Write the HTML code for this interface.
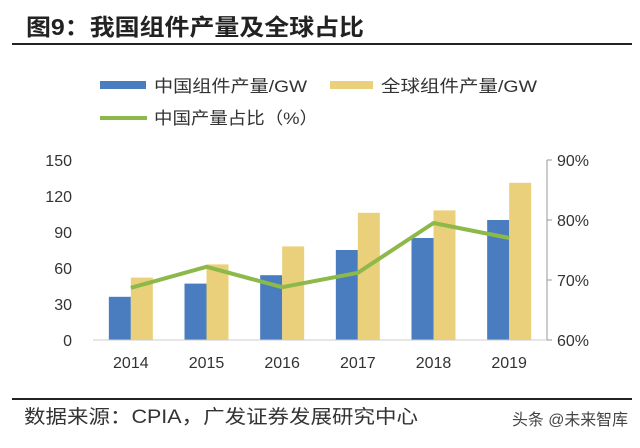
<!DOCTYPE html>
<html><head><meta charset="utf-8"><style>
body{margin:0;background:#fff;}
svg text{font-family:"Liberation Sans","Noto Sans CJK SC",sans-serif;}
</style></head><body>
<svg width="640" height="443" viewBox="0 0 640 443" xmlns="http://www.w3.org/2000/svg">
<text x="26" y="35" font-size="23" font-weight="bold" fill="#222" textLength="338" lengthAdjust="spacingAndGlyphs">图9：我国组件产量及全球占比</text>
<line x1="12" y1="44" x2="632" y2="44" stroke="#222" stroke-width="2"/>
<g font-size="17" fill="#333">
<rect x="100" y="81" width="46" height="8" fill="#4a7dbf"/>
<text x="154" y="92" textLength="153" lengthAdjust="spacingAndGlyphs">中国组件产量/GW</text>
<rect x="330" y="81" width="43" height="8" fill="#ead07a"/>
<text x="381" y="92" textLength="156" lengthAdjust="spacingAndGlyphs">全球组件产量/GW</text>
<line x1="100" y1="118" x2="147" y2="118" stroke="#8db84a" stroke-width="4"/>
<text x="154" y="124" textLength="164" lengthAdjust="spacingAndGlyphs">中国产量占比（%）</text>
</g>
<g id="plot"></g>
<line x1="12" y1="399" x2="632" y2="399" stroke="#222" stroke-width="2"/>
<text x="24" y="423" font-size="19" fill="#333" textLength="394" lengthAdjust="spacingAndGlyphs">数据来源：CPIA，广发证券发展研究中心</text>
<text x="512" y="425" font-size="16" fill="#444" textLength="116" lengthAdjust="spacingAndGlyphs">头条 @未来智库</text>
</svg>
<script>
const categories=["2014","2015","2016","2017","2018","2019"];
const chinaOutput=[36,47,54,75,85,100];
const globalOutput=[52,63,78,106,108,131];
const chinaShare=[68.7,72.2,68.8,71.2,79.5,77.0];
const leftTicks=[0,30,60,90,120,150];
const rightTicks=[60,70,80,90];
const NS="http://www.w3.org/2000/svg";
const g=document.getElementById('plot');
const x0=93,x1=547,yB=340,yT=160;
const bw=(x1-x0)/categories.length;
const yL=v=>yB-(v/150)*(yB-yT);
const yR=v=>yB-((v-60)/30)*(yB-yT);
const xc=i=>x0+bw*(i+0.5);
function mk(t,a){const e=document.createElementNS(NS,t);for(const k in a)e.setAttribute(k,a[k]);g.appendChild(e);return e;}
leftTicks.forEach(v=>{const t=mk('text',{x:72,y:yL(v)+6,'font-size':16,fill:'#333','text-anchor':'end'});t.textContent=v;

});
rightTicks.forEach(v=>{const t=mk('text',{x:557,y:yR(v)+6,'font-size':16,fill:'#333'});t.textContent=v+'%';


const l=mk('line',{x1:x1,x2:x1+5,y1:yR(v),y2:yR(v),stroke:'#999'});

});
const ax=mk('line',{x1:x1,x2:x1,y1:yT,y2:yB,stroke:'#999'});


categories.forEach((c,i)=>{
const b1=mk('rect',{x:xc(i)-22,y:yL(chinaOutput[i]),width:22,height:yB-yL(chinaOutput[i]),fill:'#4a7dbf'});


const b2=mk('rect',{x:xc(i),y:yL(globalOutput[i]),width:22,height:yB-yL(globalOutput[i]),fill:'#ead07a'});


const t=mk('text',{x:xc(i),y:368,'font-size':16,fill:'#333','text-anchor':'middle'});t.textContent=c;


});
const base=mk('line',{x1:x0,x2:x1,y1:yB,y2:yB,stroke:'#ccc'});


const pl=mk('polyline',{points:chinaShare.map((v,i)=>xc(i)+','+yR(v)).join(' '),fill:'none',stroke:'#8db84a','stroke-width':4,'stroke-linejoin':'round'});


</script>
</body></html>
